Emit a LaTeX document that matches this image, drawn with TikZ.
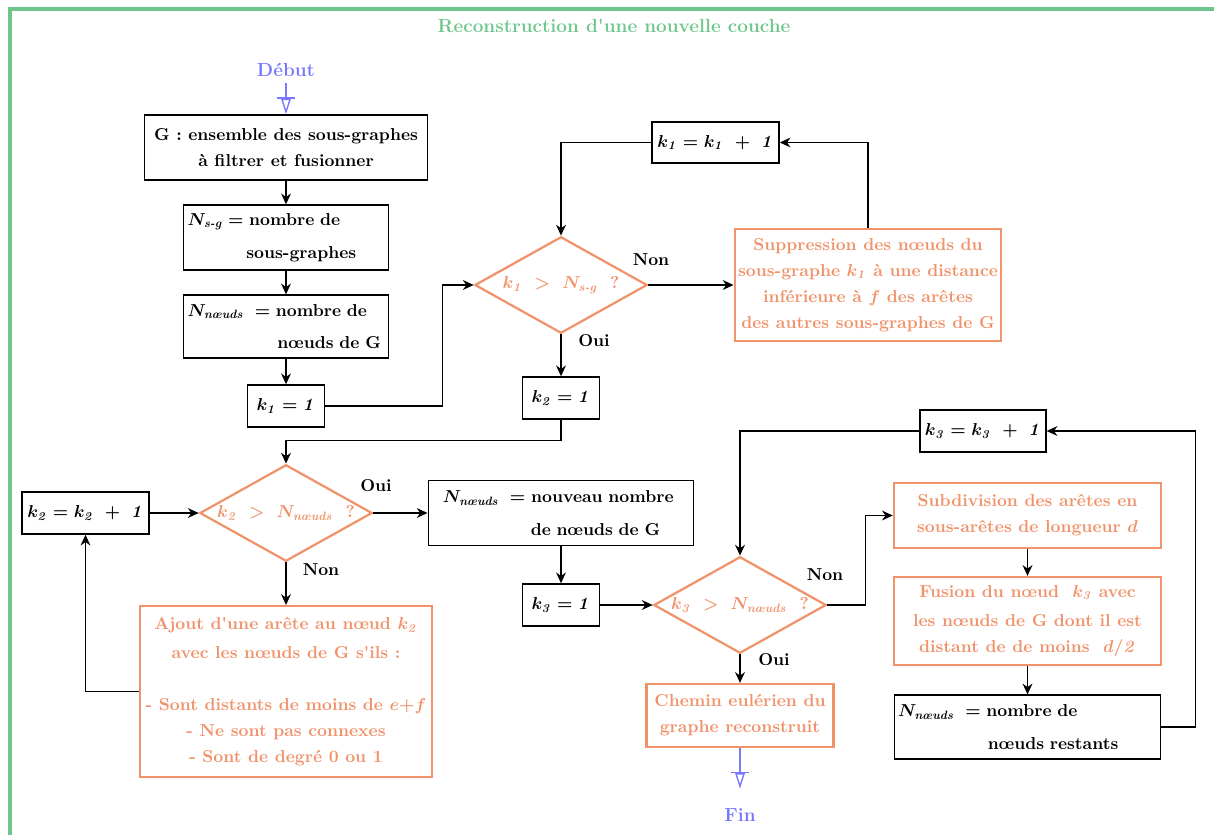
\documentclass[tikz,border=0pt]{standalone}
\usepackage{amsmath}
\usepackage{xcolor}
\usepackage{tikz}
\usetikzlibrary{arrows.meta,shapes.geometric}
\definecolor{vert}{RGB}{110,198,140}
\definecolor{saumon}{RGB}{240,146,106}
\definecolor{bleu}{RGB}{120,120,255}

\begin{document}
\begin{tikzpicture}[
  x=0.58pt,y=-0.58pt,
  font=\bfseries\boldmath\linespread{1.25}\selectfont,
  box/.style={draw,thick,align=center,inner sep=2pt},
  boxl/.style={draw,thick,align=left,inner sep=2.3pt},
  action/.style={draw=saumon,line width=1.3pt,text=saumon,align=center,inner sep=2pt},
  decision/.style={diamond,draw=saumon,line width=1.3pt,text=saumon,inner sep=0pt,aspect=1.8,minimum width=100pt,minimum height=56pt},
  arrow/.style={-{Stealth[length=2.2mm,width=2mm]},thick},
  endpoint/.style={bleu,thick,-{Bar[width=10pt,line width=0.9pt]Triangle[open,length=9pt,width=5.5pt]}},
  borne/.style={text=bleu,font=\fontsize{11}{13}\bfseries\selectfont},
  lbl/.style={font=\bfseries}
]
\useasboundingbox (0,0) rectangle (1214,835);
\draw[vert,line width=2pt] (1214,9) -- (10,9) -- (10,835);
\node[text=vert,font=\fontsize{11}{13}\bfseries\selectfont] (titre) at (614,26) {Reconstruction d\textquotesingle une nouvelle couche};

\node[borne] (debut) at (286,70) {Début};
\node[box,minimum width=164pt,minimum height=37.7pt] (G) at (286,147.5) {G : ensemble des sous-graphes\\à filtrer et fusionner};
\node[boxl,text width=114pt,minimum height=37.7pt] (nsg) at (286,237.5) {$N_{\textit{s-g}}$\ = nombre de\\[4pt]\hspace*{34pt}sous-graphes};
\node[boxl,text width=114pt,minimum height=36.5pt] (nn) at (286,326.5) {$N_{\textit{nœuds}}$\ \ = nombre de\\[4pt]\hspace*{52pt}nœuds de G};
\node[box,minimum width=44.7pt,minimum height=24.4pt] (k1) at (286,406) {$k_{\mathit{1}} = \mathit{1}$};
\node[decision] (d1) at (561,285) {$k_{\mathit{1}}\ >\ N_{\textit{s-g}}\ \ ?$};
\node[box,minimum width=73.7pt,minimum height=23.8pt] (k1inc) at (715.5,142.5) {$k_{\mathit{1}} = k_{\mathit{1}}\ +\ \mathit{1}$};
\node[action,minimum width=154pt,minimum height=65pt] (supp) at (868,285) {Suppression des nœuds du\\sous-graphe $k_{\mathit{1}}$ à une distance\\inférieure à $f$ des arêtes\\des autres sous-graphes de G};
\node[box,minimum width=44.7pt,minimum height=24.4pt] (k21) at (561,398) {$k_{\mathit{2}} = \mathit{1}$};

\node[decision] (d2) at (286,513) {$k_{\mathit{2}}\ >\ N_{\textit{nœuds}}\ \ ?$};
\node[box,minimum width=73.7pt,minimum height=24.4pt] (k2inc) at (85.5,513) {$k_{\mathit{2}} = k_{\mathit{2}}\ +\ \mathit{1}$};
\node[action,minimum width=169pt,minimum height=99pt] (ajout) at (286,691.5) {Ajout d\textquotesingle une arête au nœud $k_{\mathit{2}}$\\[2pt]avec les nœuds de G s\textquotesingle ils :\\ \\- Sont distants de moins de $e{+}f$\\- Ne sont pas connexes\\- Sont de degré 0 ou 1};
\node[boxl,text width=137pt,minimum height=37.7pt,inner xsep=8.5pt] (nnouv) at (561,513) {$N_{\textit{nœuds}}$\ \ = nouveau nombre\\[4pt]\hspace*{51pt}de nœuds de G};
\node[box,minimum width=44.7pt,minimum height=24.4pt] (k31) at (561,605) {$k_{\mathit{3}} = \mathit{1}$};
\node[decision] (d3) at (740,605) {$k_{\mathit{3}}\ >\ N_{\textit{nœuds}}\ \ ?$};
\node[action,minimum width=108.5pt,minimum height=36.5pt] (chemin) at (740,715.5) {Chemin eulérien du\\graphe reconstruit};
\node[borne] (fin) at (740,815) {Fin};

\node[box,minimum width=73pt,minimum height=24.4pt] (k3inc) at (983,431) {$k_{\mathit{3}} = k_{\mathit{3}}\ +\ \mathit{1}$};
\node[action,minimum width=155pt,minimum height=37.7pt] (subdiv) at (1027.5,515.5) {Subdivision des arêtes en\\sous-arêtes de longueur $d$};
\node[action,minimum width=155pt,minimum height=51pt] (fusion) at (1027.5,621) {Fusion du nœud\ \ $k_{\mathit{3}}$ avec\\[2pt]les nœuds de G dont il est\\distant de de moins\ \ $d/\mathit{2}$};
\node[boxl,text width=150pt,minimum height=37pt] (nrest) at (1027.5,727) {$N_{\textit{nœuds}}$\ \ = nombre de\\[4pt]\hspace*{52pt}nœuds restants};

\node[lbl] (non1) at (651,260) {Non};
\node[lbl] (oui1) at (594,341) {Oui};
\node[lbl] (oui2) at (376,486) {Oui};
\node[lbl] (non2) at (321,570) {Non};
\node[lbl] (non3) at (825,575) {Non};
\node[lbl] (oui3) at (774,660) {Oui};

\draw[endpoint] (debut) -- (G);
\draw[arrow] (G) -- (nsg);
\draw[arrow] (nsg) -- (nn);
\draw[arrow] (nn) -- (k1);
\draw[arrow] (k1.east) -- ++(117,0) |- (d1.west);
\draw[arrow] (d1.east) -- (supp.west);
\draw[arrow] (supp.north) |- (k1inc.east);
\draw[arrow] (k1inc.west) -| (d1.north);
\draw[arrow] (d1.south) -- (k21.north);
\draw[arrow] (k21.south) -- ++(0,21) -| (d2.north);
\draw[arrow] (d2.east) -- (nnouv.west);
\draw[arrow] (d2.south) -- (ajout.north);
\draw[arrow] (ajout.west) -| (k2inc.south);
\draw[arrow] (k2inc.east) -- (d2.west);
\draw[arrow] (nnouv.south) -- (k31.north);
\draw[arrow] (k31.east) -- (d3.west);
\draw[arrow] (d3.east) -- ++(38,0) |- (subdiv.west);
\draw[arrow] (d3.south) -- (chemin.north);
\draw[arrow] (subdiv.south) -- (fusion.north);
\draw[arrow] (fusion.south) -- (nrest.north);
\draw[arrow] (nrest.east) -- ++(34,0) |- (k3inc.east);
\draw[arrow] (k3inc.west) -| (d3.north);
\draw[endpoint,shorten >=8pt] (chemin) -- (fin);
\end{tikzpicture}
\end{document}
